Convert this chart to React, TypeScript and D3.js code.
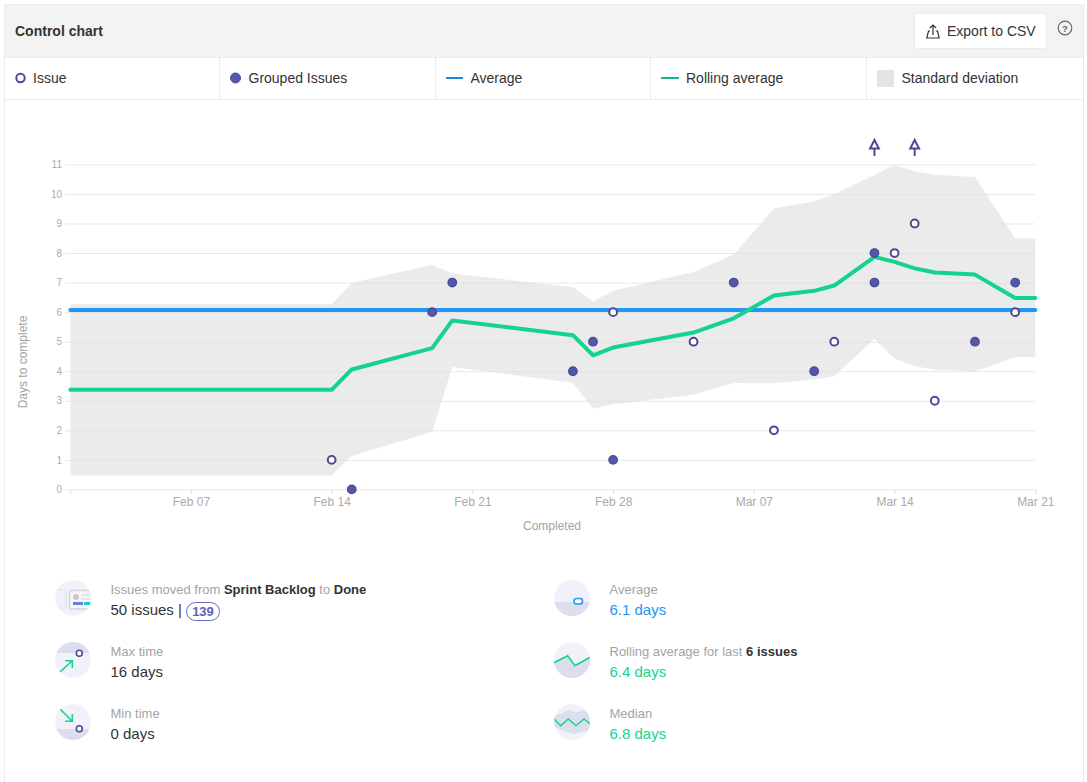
import React, { useEffect, useRef } from 'react';
import * as d3 from 'd3';

const parseDay = d3.utcParse('%Y-%m-%d');
const day = (s: string) => parseDay(s) as Date;

// chart values
const yTicks = [0, 1, 2, 3, 4, 5, 6, 7, 8, 9, 10, 11];
const xTickDays = ['2019-02-01', '2019-02-07', '2019-02-14', '2019-02-21', '2019-02-28', '2019-03-07', '2019-03-14', '2019-03-21'];
const averageValue = 6.07;

const issues: [string, number][] = [
  ['2019-02-14', 1], ['2019-02-28', 6], ['2019-03-04', 5], ['2019-03-08', 2], ['2019-03-11', 5],
  ['2019-03-14', 8], ['2019-03-15', 9], ['2019-03-16', 3], ['2019-03-20', 6],
];
const groupedIssues: [string, number][] = [
  ['2019-02-15', 0], ['2019-02-19', 6], ['2019-02-20', 7], ['2019-02-26', 4], ['2019-02-27', 5],
  ['2019-02-28', 1], ['2019-03-06', 7], ['2019-03-10', 4], ['2019-03-13', 8], ['2019-03-13', 7],
  ['2019-03-18', 5], ['2019-03-20', 7],
];
// issues above the top of the axis, shown as arrows
const outlierDays = ['2019-03-13', '2019-03-15'];

const bandDays = [
  '2019-02-01', '2019-02-14', '2019-02-15', '2019-02-19', '2019-02-20', '2019-02-26', '2019-02-27',
  '2019-02-28', '2019-03-04', '2019-03-06', '2019-03-08', '2019-03-10', '2019-03-11', '2019-03-13',
  '2019-03-14', '2019-03-15', '2019-03-16', '2019-03-18', '2019-03-20', '2019-03-21',
];
const rollingValues = [3.37, 3.37, 4.06, 4.78, 5.72, 5.22, 4.54, 4.8, 5.31, 5.79, 6.56, 6.72, 6.9, 7.87, 7.7, 7.48, 7.34, 7.27, 6.48, 6.48];
const bandUpper = [6.27, 6.27, 6.99, 7.6, 7.31, 6.84, 6.37, 6.72, 7.36, 7.95, 9.51, 9.75, 9.99, 10.64, 10.99, 10.76, 10.65, 10.57, 8.49, 8.49];
const bandLower = [0.47, 0.47, 1.13, 1.95, 4.14, 3.61, 2.74, 2.88, 3.2, 3.6, 3.59, 3.72, 3.83, 5.09, 4.43, 4.17, 4.06, 3.99, 4.48, 4.48];

const legendCells = ['Issue', 'Grouped Issues', 'Average', 'Rolling average', 'Standard deviation'];

const INDIGO = '#4a4a98';
const INDIGO_FILL = '#5557ad';
const BLUE = '#2196f3';
const GREEN = '#13d38e';
const GREY_TEXT = '#a3a3a3';
const DARK_TEXT = '#333333';
const ICON_LIGHT = '#f0f1f9';
const ICON_DARK = '#dcdeed';
const SANS = '"Liberation Sans", Arial, sans-serif';

const Icon = ({ id, cx, cy, children }: { id: string; cx: number; cy: number; children: React.ReactNode }) => (
  <g transform={`translate(${cx},${cy})`}>
    <clipPath id={id}><circle r={18} /></clipPath>
    <g clipPath={`url(#${id})`}>
      <circle r={18} fill={ICON_LIGHT} />
      {children}
    </g>
  </g>
);

const Stat = ({ x, y, value, color = DARK_TEXT, children }: { x: number; y: number; value: string; color?: string; children: React.ReactNode }) => (
  <g fontFamily={SANS}>
    <text x={x} y={y} fontSize={13} fill={GREY_TEXT}>{children}</text>
    <text x={x} y={y + 21} fontSize={15} fill={color}>{value}</text>
  </g>
);

const App: React.FC = () => {
  const chartRef = useRef<SVGGElement>(null);

  useEffect(() => {
    if (!chartRef.current) return;
    const g = d3.select(chartRef.current);
    g.selectAll('*').remove();

    const xScale = d3.scaleUtc().domain([day('2019-02-01'), day('2019-03-21')]).range([70.3, 1035.3]);
    const yScale = d3.scaleLinear().domain([0, 11]).range([489.4, 164.4]);
    const bandX = (i: number) => xScale(day(bandDays[i]));

    // grid and y labels
    const yAxis = d3.axisLeft(yScale).tickValues(yTicks).tickSize(-970).tickPadding(3).tickFormat(d3.format('d') as any);
    const yG = g.append('g').attr('transform', 'translate(65,0)').call(yAxis);
    yG.select('.domain').remove();
    yG.selectAll('.tick line').attr('stroke', '#e8e8e8');
    yG.selectAll('.tick text').attr('fill', '#aaaaaa').attr('font-size', 10).attr('font-family', SANS);

    // date axis
    const xAxis = d3.axisBottom(xScale)
      .tickValues(xTickDays.map(day))
      .tickSize(5)
      .tickPadding(3)
      .tickFormat((d, i) => (i === 0 ? '' : d3.utcFormat('%b %d')(d as Date)));
    const xG = g.append('g').attr('transform', 'translate(0,489.4)').call(xAxis);
    xG.select('.domain').remove();
    xG.selectAll('.tick line').attr('stroke', '#e3e3e3');
    xG.selectAll('.tick text').attr('fill', '#aaaaaa').attr('font-size', 12).attr('font-family', SANS);

    // standard deviation band
    const area = d3.area<number>()
      .x((_, i) => bandX(i))
      .y0((_, i) => yScale(bandLower[i]))
      .y1(d => yScale(d));
    g.append('path').attr('d', area(bandUpper)).attr('fill', '#dedede').attr('opacity', 0.62);

    // average
    g.append('line')
      .attr('x1', xScale.range()[0])
      .attr('x2', xScale.range()[1])
      .attr('y1', yScale(averageValue))
      .attr('y2', yScale(averageValue))
      .attr('stroke', BLUE)
      .attr('stroke-width', 4)
      .attr('stroke-linecap', 'round');

    // rolling average
    const line = d3.line<number>().x((_, i) => bandX(i)).y(d => yScale(d));
    g.append('path')
      .attr('d', line(rollingValues))
      .attr('fill', 'none')
      .attr('stroke', GREEN)
      .attr('stroke-width', 4)
      .attr('stroke-linecap', 'round')
      .attr('stroke-linejoin', 'round');

    g.selectAll('.grouped')
      .data(groupedIssues)
      .enter()
      .append('circle')
      .attr('class', 'grouped')
      .attr('cx', d => xScale(day(d[0])))
      .attr('cy', d => yScale(d[1]))
      .attr('r', 4.2)
      .attr('fill', INDIGO_FILL)
      .attr('stroke', INDIGO)
      .attr('stroke-width', 1.4);

    g.selectAll('.issue')
      .data(issues)
      .enter()
      .append('circle')
      .attr('class', 'issue')
      .attr('cx', d => xScale(day(d[0])))
      .attr('cy', d => yScale(d[1]))
      .attr('r', 3.9)
      .attr('fill', '#fff')
      .attr('stroke', INDIGO)
      .attr('stroke-width', 2);

    // outliers
    const arrows = g.selectAll('.outlier')
      .data(outlierDays)
      .enter()
      .append('g')
      .attr('class', 'outlier')
      .attr('transform', d => `translate(${xScale(day(d))},0)`);
    arrows.append('path')
      .attr('d', 'M0,140L-4.4,148.5H4.4Z')
      .attr('fill', '#fff')
      .attr('stroke', INDIGO)
      .attr('stroke-width', 2);
    arrows.append('line')
      .attr('y1', 149)
      .attr('y2', 156)
      .attr('stroke', INDIGO)
      .attr('stroke-width', 2);
  }, []);

  const legendX = [33, 248.5, 470.5, 686, 901.5];

  return (
    <svg width={1087} height={782} style={{ position: 'absolute', left: 0, top: 0 }}>
      <rect x={4.5} y={4.5} width={1079} height={800} fill="#fff" stroke="#ececec" />
      <rect x={5} y={5} width={1078} height={52} fill="#f3f3f3" />
      <line x1={5} x2={1083} y1={57.5} y2={57.5} stroke="#ececec" />
      <line x1={5} x2={1083} y1={99.5} y2={99.5} stroke="#ececec" />
      {[219.5, 435.5, 650.5, 866.5].map(x => (
        <line key={x} x1={x} x2={x} y1={58} y2={99} stroke="#ececec" />
      ))}

      <text x={15} y={36} fontFamily={SANS} fontWeight={700} fontSize={14} fill={DARK_TEXT}>Control chart</text>

      <rect x={914.5} y={13.5} width={132} height={35} rx={1} fill="#fff" stroke="#ececec" />
      <g fill="none" stroke="#333" strokeWidth={1.2}>
        <path d="M933,35V25M929.8,28L933,25L936.2,28" />
        <path d="M930,31H928.5L926.8,38H939.2L937.5,31H936" />
      </g>
      <text x={947} y={36} fontFamily={SANS} fontSize={14} fill={DARK_TEXT}>Export to CSV</text>
      <circle cx={1065} cy={28} r={6.8} fill="none" stroke="#666" strokeWidth={1.2} />
      <text x={1065} y={31.5} textAnchor="middle" fontFamily={SANS} fontWeight={700} fontSize={9.5} fill="#666">?</text>

      {legendCells.map((label, i) => (
        <text key={label} x={legendX[i]} y={83} fontFamily={SANS} fontSize={14} fill={DARK_TEXT}>{label}</text>
      ))}
      <circle cx={20.5} cy={78} r={4.2} fill="#fff" stroke={INDIGO} strokeWidth={2} />
      <circle cx={235.5} cy={78} r={5} fill={INDIGO_FILL} stroke={INDIGO} />
      <line x1={446} x2={463} y1={78} y2={78} stroke="#1e88d8" strokeWidth={2} />
      <line x1={661} x2={679} y1={78} y2={78} stroke="#12b886" strokeWidth={2} />
      <rect x={877} y={70} width={17} height={17} fill="#e4e4e4" />

      <g ref={chartRef} />

      <text x={552} y={530} textAnchor="middle" fontFamily={SANS} fontSize={12} fill={GREY_TEXT}>Completed</text>
      <text transform="translate(27,362) rotate(-90)" textAnchor="middle" fontFamily={SANS} fontSize={12} fill={GREY_TEXT}>Days to complete</text>

      <Icon id="i1" cx={73} cy={598}>
        <rect x={-25} y={-8} width={18} height={18} rx={1} fill="none" stroke="#e2e3ee" strokeWidth={1.2} />
        <rect x={-3.5} y={-7.5} width={24} height={18.5} rx={1} fill="#f7f7fb" stroke="#d4d4d8" strokeWidth={1.4} />
        <circle cx={3} cy={-1} r={3} fill="#c8c8ce" />
        <path d="M8,-3H18M8,1H18" stroke="#d0d0d6" strokeWidth={1.2} />
        <rect x={0} y={4} width={10} height={3} fill="#6f7fe0" />
        <rect x={11} y={4} width={7} height={3} fill="#18c8d8" />
      </Icon>
      <Icon id="i2" cx={73} cy={660}>
        <rect x={-18} y={-18} width={36} height={11} fill={ICON_DARK} />
        <circle cx={6.3} cy={-6.7} r={3} fill="#fff" stroke={INDIGO} strokeWidth={1.6} />
        <path d="M-13,12L-1,1M-8,0.8H-0.7V8" fill="none" stroke={GREEN} strokeWidth={1.6} />
      </Icon>
      <Icon id="i3" cx={73} cy={722}>
        <rect x={-18} y={7} width={36} height={11} fill={ICON_DARK} />
        <circle cx={6.3} cy={6.7} r={3} fill="#fff" stroke={INDIGO} strokeWidth={1.6} />
        <path d="M-13,-13L-1,-1M-8,-0.8H-0.7V-8" fill="none" stroke={GREEN} strokeWidth={1.6} />
      </Icon>
      <Icon id="i4" cx={572} cy={598}>
        <rect x={-18} y={4} width={36} height={14} fill={ICON_DARK} />
        <rect x={2} y={0.5} width={8.5} height={5.5} rx={2.5} fill="#fff" stroke={BLUE} strokeWidth={1.6} />
      </Icon>
      <Icon id="i5" cx={572} cy={660}>
        <path d="M-18,2.7L-4.3,-4.3L3,5.7L18,-2.7V18H-18Z" fill={ICON_DARK} />
        <path d="M-18,2.7L-4.3,-4.3L3,5.7L18,-2.7" fill="none" stroke={GREEN} strokeWidth={1.6} />
      </Icon>
      <Icon id="i6" cx={572} cy={722}>
        <path d="M-18,-6L-11,-8L-4,-12L4,-10L12,-12L18,-8V10L12,9L3,12L-6,10L-18,5Z" fill={ICON_DARK} />
        <path d="M-18,-3L-11.3,3.7L-3.7,-3L4,3.7L12,-3L18,2" fill="none" stroke={GREEN} strokeWidth={1.4} />
      </Icon>

      <Stat x={110.5} y={594} value="50 issues |">
        Issues moved from <tspan fontWeight={700} fill={DARK_TEXT}>Sprint Backlog</tspan> to <tspan fontWeight={700} fill={DARK_TEXT}>Done</tspan>
      </Stat>
      <rect x={186.5} y={602.5} width={33} height={18} rx={9} fill="#fff" stroke="#6a6cc0" />
      <text x={203} y={616} textAnchor="middle" fontFamily={SANS} fontWeight={700} fontSize={13} fill="#5f60b5">139</text>
      <Stat x={110.5} y={656} value="16 days">Max time</Stat>
      <Stat x={110.5} y={718} value="0 days">Min time</Stat>
      <Stat x={609.5} y={594} value="6.1 days" color={BLUE}>Average</Stat>
      <Stat x={609.5} y={656} value="6.4 days" color={GREEN}>
        Rolling average for last <tspan fontWeight={700} fill={DARK_TEXT}>6 issues</tspan>
      </Stat>
      <Stat x={609.5} y={718} value="6.8 days" color={GREEN}>Median</Stat>
    </svg>
  );
};

export default App;
